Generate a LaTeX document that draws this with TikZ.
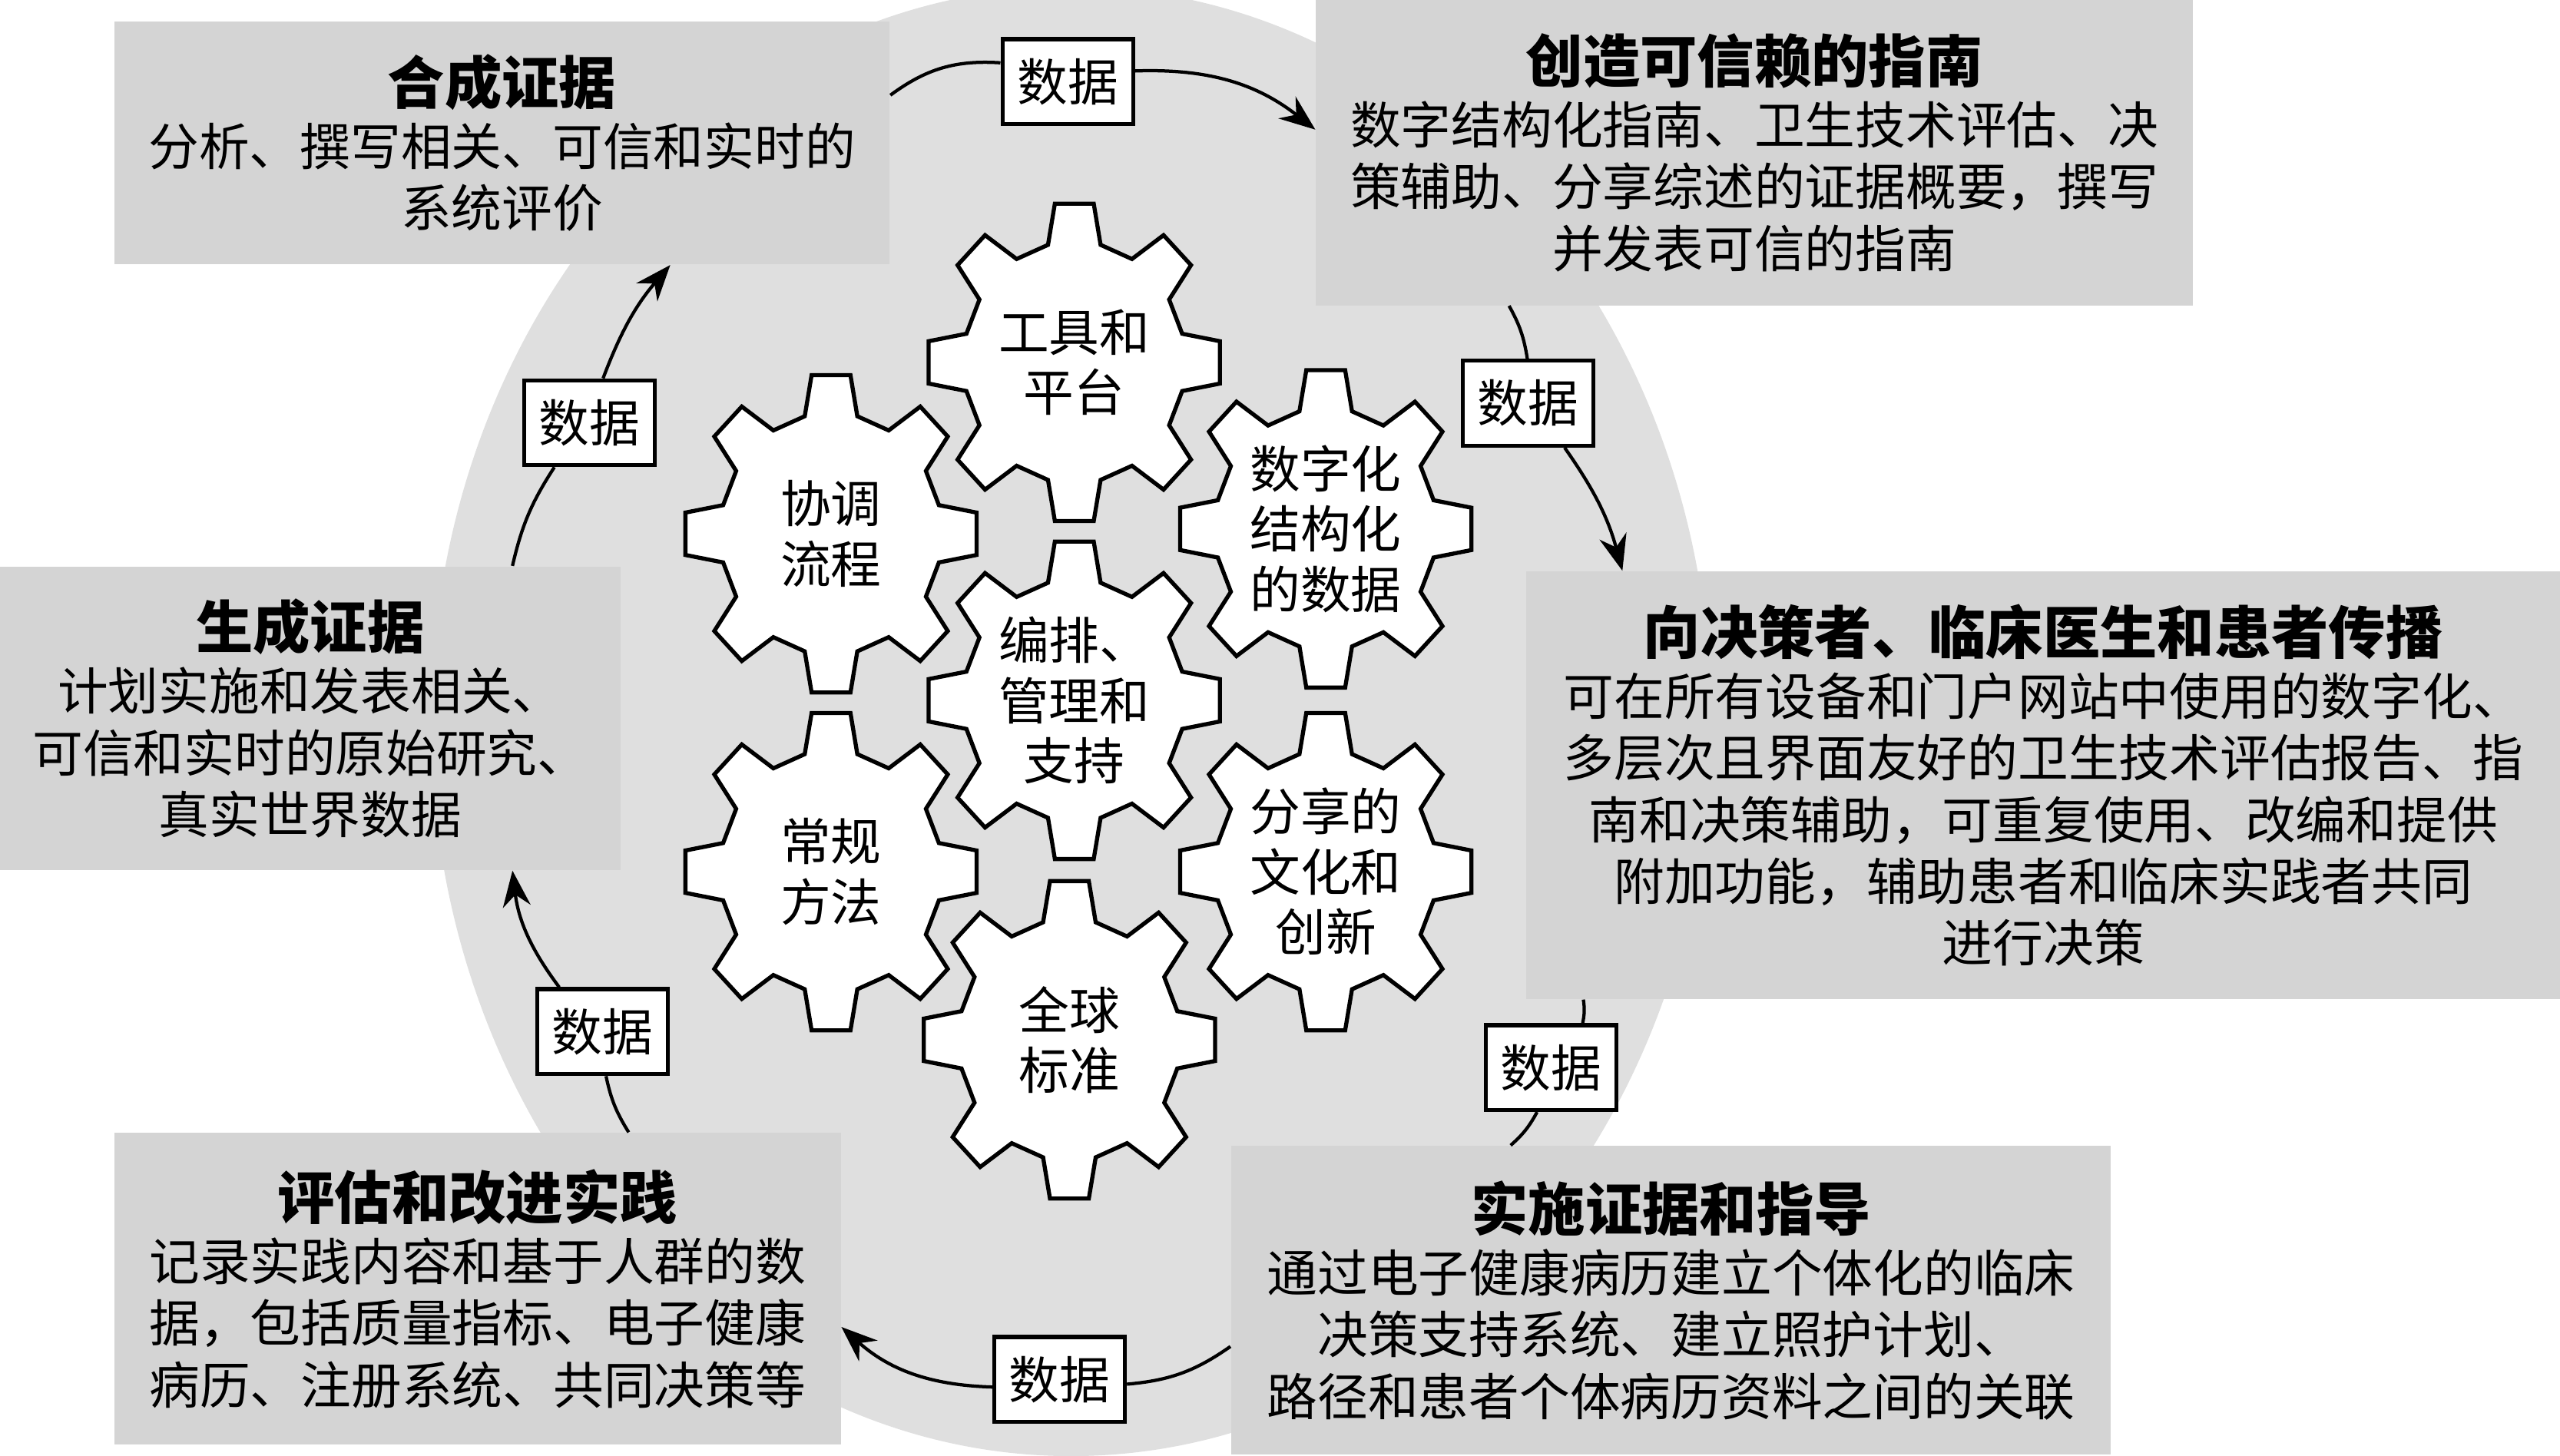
\documentclass[tikz,border=0pt]{standalone}
\usepackage{fontspec}
\setmainfont{Noto Sans CJK SC}
\usetikzlibrary{arrows.meta}
\definecolor{boxgray}{gray}{0.83}
\definecolor{ringgray}{gray}{0.875}
\newcommand{\boxtitle}[1]{{\fontsize{19.9pt}{24pt}\selectfont\bfseries #1}}
\tikzset{
    pics/gear/.style={code={
        \draw[line width=0.5mm, fill=white, yscale=1.09] (-13.7:68)
            \foreach \a in {0,45,...,315} {
                -- (\a-13.7:68) -- (\a-7.6:90) -- (\a+7.6:90) -- (\a+13.7:68)
            } -- cycle;
    }}
}
\begin{document}
\begin{tikzpicture}[x=0.2mm, y=-0.2mm,
        box/.style={fill=boxgray, inner sep=0pt, align=center, font=\fontsize{17.6pt}{21.5pt}\selectfont},
        data/.style={draw, line width=0.5mm, fill=white, minimum width=16mm, minimum height=10.4mm, inner sep=0pt, font=\fontsize{17.6pt}{21.5pt}\selectfont},
        gtext/.style={align=center, font=\fontsize{17.6pt}{21pt}\selectfont},
        link/.style={line width=0.4mm},
        flow/.style={link, -{Stealth[length=4.4mm, width=3.4mm]}}]
    \clip (0,0) rectangle (1568,891.5);
    \fill[ringgray] (656,442) ellipse [x radius=78.4mm, y radius=90mm];

    \node[box, minimum width=95mm, minimum height=29.8mm] (synth) at (307.5,87.5)
        {\boxtitle{合成证据}\\分析、撰写相关、可信和实时的\\系统评价};
    \node[box, minimum width=107.4mm, minimum height=37.4mm] (guide) at (1074.5,93.5)
        {\boxtitle{创造可信赖的指南}\\数字结构化指南、卫生技术评估、决\\策辅助、分享综述的证据概要，撰写\\并发表可信的指南};
    \node[box, minimum width=126.6mm, minimum height=52.4mm] (dissem) at (1251.5,481)
        {\boxtitle{向决策者、临床医生和患者传播}\\可在所有设备和门户网站中使用的数字化、\\多层次且界面友好的卫生技术评估报告、指\\南和决策辅助，可重复使用、改编和提供\\附加功能，辅助患者和临床实践者共同\\进行决策};
    \node[box, minimum width=107.8mm, minimum height=37.8mm] (impl) at (1023.5,796.5)
        {\boxtitle{实施证据和指导}\\通过电子健康病历建立个体化的临床\\决策支持系统、建立照护计划、\\路径和患者个体病历资料之间的关联};
    \node[box, minimum width=89mm, minimum height=38.2mm] (eval) at (292.5,789.5)
        {\boxtitle{评估和改进实践}\\记录实践内容和基于人群的数\\据，包括质量指标、电子健康\\病历、注册系统、共同决策等};
    \node[box, minimum width=76mm, minimum height=37.2mm] (gen) at (190,440)
        {\boxtitle{生成证据}\\计划实施和发表相关、\\可信和实时的原始研究、\\真实世界数据};

    \node[data] (d1) at (654,50) {数据};
    \node[data] (d2) at (936,247) {数据};
    \node[data] (d3) at (950,654) {数据};
    \node[data] (d4) at (649,845) {数据};
    \node[data] (d5) at (369,632) {数据};
    \node[data] (d6) at (361,259) {数据};

    \draw[link] (synth.7) to[bend left=20] (d1);
    \draw[flow] (d1) to[bend left=20] (guide.177);
    \draw[link] (guide.212) to[bend left=10] (d2);
    \draw[flow] (d2) to[bend left=10] (dissem.153);
    \draw[link] (dissem.205) to[bend left=10] (d3);
    \draw[link] (d3) to[bend left=10] (impl.136);
    \draw[link] (impl.186) to[bend left=15] (d4);
    \draw[flow] (d4) to[bend left=20] (eval.354);
    \draw[link] (eval.46) to[bend left=10] (d5);
    \draw[flow] (d5) to[bend left=15] (gen.323);
    \draw[link] (gen.37) to[bend left=10] (d6);
    \draw[flow] (d6) to[bend left=10] (synth.324);

    \foreach \nm/\gx/\gy/\txt in {tools/658/222/{工具和\\平台}, coord/509/327/{协调\\流程},
            digdata/812/324/{数字化\\结构化\\的数据}, orch/658/429/{编排、\\管理和\\支持},
            routine/509/534/{常规\\方法}, culture/812/534/{分享的\\文化和\\创新},
            global/655/637/{全球\\标准}} {
        \pic at (\gx,\gy) {gear};
        \node[gtext] (\nm) at (\gx,\gy) {\txt};
    }
\end{tikzpicture}
\end{document}
